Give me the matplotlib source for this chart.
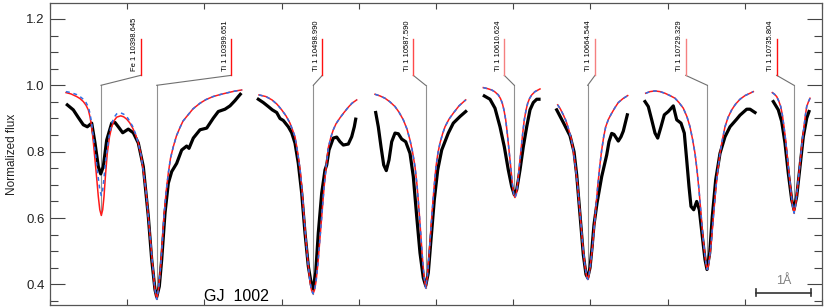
import numpy as np
import matplotlib.pyplot as plt
from matplotlib.ticker import MultipleLocator, FormatStrFormatter, NullFormatter

plt.rcParams['font.family'] = ['Liberation Sans', 'DejaVu Sans']

# x is in plot units (55 units = 1 A), spectral windows are placed side by side
# segment 1: Fe 1 10398.645 + Ti 1 10399.651
s1_obs_x = [17.3, 23.3, 28.3, 33.3, 37.3, 41.7, 45, 48.3, 50.7, 53.3, 56.7, 61.7, 65, 68.3, 72.7,
            78.3, 83.3, 88.3, 93.3, 98.3, 101.7, 105, 106.7, 109.3, 111.7, 115, 118.3, 121.7,
            126.7, 131.7, 136.7, 139, 143.3, 150, 156.7, 163.3, 168.3, 175, 180, 185, 188.3, 190.3]
s1_obs_y = [0.941, 0.926, 0.903, 0.881, 0.875, 0.886, 0.826, 0.755, 0.733, 0.755, 0.835, 0.886,
            0.888, 0.875, 0.857, 0.868, 0.857, 0.826, 0.755, 0.605, 0.475, 0.384, 0.362, 0.394,
            0.475, 0.615, 0.705, 0.740, 0.765, 0.805, 0.817, 0.810, 0.841, 0.866, 0.871, 0.901,
            0.921, 0.928, 0.938, 0.954, 0.966, 0.973]
s1_mod_x = [16, 21, 26.7, 30, 33.3, 36, 38.3, 40, 41.7, 43.3, 45, 46.7, 48.3, 49.8, 51.3, 52.7,
            54, 55.5, 57.3, 59.5, 61.7, 64, 66.7, 70.7, 73.7, 76.7, 79.7, 82.7, 85.5, 88.3, 91,
            93.3, 96, 98.3, 100.5, 102.7, 104.7, 106.7, 108.7, 110.7, 112.4, 114, 116, 118.3,
            120.5, 123.3, 126.5, 130, 133, 136.7, 143, 150, 156, 163, 170, 176.7, 184, 191.7]
s1_red_y = [0.978, 0.974, 0.966, 0.960, 0.951, 0.940, 0.926, 0.905, 0.875, 0.830, 0.775, 0.720,
            0.665, 0.625, 0.608, 0.625, 0.665, 0.730, 0.795, 0.845, 0.875, 0.893, 0.904, 0.908,
            0.905, 0.898, 0.887, 0.871, 0.852, 0.826, 0.790, 0.745, 0.680, 0.605, 0.530, 0.455,
            0.390, 0.355, 0.390, 0.455, 0.530, 0.605, 0.675, 0.735, 0.780, 0.815, 0.848, 0.873,
            0.892, 0.906, 0.929, 0.946, 0.957, 0.966, 0.972, 0.977, 0.982, 0.986]
s1_blue_y = [0.981, 0.978, 0.972, 0.966, 0.958, 0.948, 0.935, 0.915, 0.885, 0.845, 0.805, 0.760,
             0.720, 0.685, 0.668, 0.685, 0.720, 0.770, 0.810, 0.855, 0.885, 0.903, 0.914, 0.917,
             0.913, 0.906, 0.892, 0.876, 0.854, 0.826, 0.790, 0.745, 0.680, 0.605, 0.530, 0.455,
             0.390, 0.355, 0.390, 0.455, 0.530, 0.605, 0.675, 0.735, 0.780, 0.815, 0.848, 0.873,
             0.892, 0.906, 0.929, 0.946, 0.957, 0.966, 0.972, 0.977, 0.982, 0.986]

# segment 2: Ti 1 10498.990
s2_obs_x = [208.3, 213.3, 218.3, 222.3, 226.7, 230, 233.3, 238.3, 241.7, 245, 248.3, 251.7, 255,
            258.3, 261.7, 263, 265.7, 268.3, 271.7, 275, 276.7, 279, 283.3, 286.7, 290, 293.3,
            298.3, 301.7, 304.3, 305.7]
s2_obs_y = [0.958, 0.948, 0.936, 0.926, 0.918, 0.900, 0.894, 0.875, 0.857, 0.826, 0.765, 0.675,
            0.555, 0.455, 0.394, 0.386, 0.435, 0.555, 0.675, 0.745, 0.760, 0.805, 0.841, 0.844,
            0.830, 0.820, 0.823, 0.845, 0.875, 0.898]
s2_mod_x = [209, 216, 222, 227, 231.7, 236, 240, 243, 245, 247, 249, 250.5, 252, 254, 256, 258,
            260, 261.5, 263, 264.5, 266, 268, 270, 272, 274, 276, 278.3, 281, 283.3, 286, 290,
            294, 298.3, 302, 306.7]
s2_mod_y = [0.971, 0.966, 0.956, 0.943, 0.926, 0.908, 0.886, 0.862, 0.845, 0.810, 0.770, 0.735,
            0.685, 0.605, 0.530, 0.465, 0.408, 0.383, 0.372, 0.383, 0.408, 0.465, 0.540, 0.615,
            0.690, 0.750, 0.812, 0.845, 0.866, 0.884, 0.902, 0.918, 0.934, 0.946, 0.956]

# segment 3: Ti 1 10587.590
s3_obs_x = [325.7, 328.3, 331, 333.7, 336.3, 339, 341.7, 345, 348.3, 351.7, 355.7, 360, 363.3,
            366.7, 370, 373.3, 375.7, 378.3, 381, 384.3, 387.7, 391.7, 398.3, 403.3, 410, 415.7]
s3_obs_y = [0.918, 0.875, 0.815, 0.760, 0.743, 0.775, 0.830, 0.856, 0.854, 0.838, 0.830, 0.795,
            0.725, 0.605, 0.495, 0.420, 0.396, 0.435, 0.535, 0.655, 0.745, 0.805, 0.856, 0.886,
            0.906, 0.921]
s3_mod_x = [325, 330, 335, 340, 345, 349, 353.3, 357, 360, 362.5, 365, 367, 369, 370.7, 372.3,
            374, 375.7, 377.4, 379, 380.6, 382.3, 384, 386, 388, 390, 392.5, 395, 399, 403.3,
            409, 415.7]
s3_mod_y = [0.973, 0.968, 0.961, 0.950, 0.936, 0.919, 0.896, 0.868, 0.835, 0.800, 0.755, 0.700,
            0.625, 0.555, 0.485, 0.425, 0.389, 0.425, 0.485, 0.555, 0.625, 0.690, 0.755, 0.797,
            0.826, 0.853, 0.875, 0.898, 0.916, 0.938, 0.956]

# segment 4: Ti 1 10610.624
s4_obs_x = [434.3, 440, 445, 450, 454.3, 458.3, 461.7, 464.3, 466.7, 470, 473.3, 476.7, 480,
            483.3, 486.7, 489]
s4_obs_y = [0.968, 0.958, 0.931, 0.875, 0.815, 0.745, 0.695, 0.670, 0.685, 0.745, 0.815, 0.875,
            0.926, 0.948, 0.958, 0.958]
s4_mod_x = [433.3, 437.5, 441.7, 445, 448.3, 450.5, 452.3, 454, 455.7, 457.3, 459, 460.7, 462.3,
            463.7, 465, 466.3, 467.7, 469.3, 471, 472.7, 474.3, 476, 477.7, 479.5, 481.7, 485, 490]
s4_mod_y = [0.993, 0.990, 0.986, 0.980, 0.971, 0.960, 0.946, 0.925, 0.896, 0.855, 0.805, 0.755,
            0.705, 0.672, 0.662, 0.672, 0.705, 0.755, 0.805, 0.855, 0.896, 0.925, 0.946, 0.960,
            0.971, 0.981, 0.989]

# segment 5: Ti 1 10664.544
s5_obs_x = [506.7, 513.3, 520, 524, 526.7, 530, 533.3, 536, 537.7, 540, 542, 544, 547, 551.7,
            556.7, 559, 561.7, 564, 568.3, 571, 573.3, 577.3]
s5_obs_y = [0.926, 0.888, 0.848, 0.800, 0.730, 0.610, 0.490, 0.430, 0.420, 0.450, 0.510, 0.580,
            0.645, 0.725, 0.790, 0.830, 0.855, 0.852, 0.832, 0.845, 0.862, 0.911]
s5_mod_x = [507.7, 510.5, 513.3, 516, 518.3, 521, 523.3, 525.5, 527.7, 529.7, 531.7, 533.3, 535,
            536.4, 537.7, 539, 540.3, 542, 543.7, 545.7, 547.7, 549.7, 551.7, 553.7, 555.7,
            558.5, 561.7, 565, 568.3, 573, 577.7]
s5_mod_y = [0.941, 0.928, 0.911, 0.893, 0.871, 0.842, 0.805, 0.755, 0.695, 0.625, 0.555, 0.500,
            0.455, 0.428, 0.415, 0.428, 0.455, 0.500, 0.555, 0.625, 0.695, 0.755, 0.805, 0.845,
            0.875, 0.898, 0.916, 0.933, 0.948, 0.960, 0.969]

# segment 6: Ti 1 10729.329
s6_obs_x = [595, 598.3, 601.7, 605, 607.7, 611, 614.3, 618.3, 623.3, 626.7, 631, 634.3, 636.7,
            639, 641, 643.7, 646.7, 649.3, 652.3, 655, 657, 659.7, 662.3, 665.7, 670, 675, 680,
            686.7, 690, 696.7, 700, 705]
s6_obs_y = [0.951, 0.936, 0.896, 0.856, 0.841, 0.875, 0.911, 0.921, 0.938, 0.896, 0.886, 0.856,
            0.775, 0.695, 0.635, 0.625, 0.650, 0.625, 0.545, 0.475, 0.445, 0.495, 0.605, 0.715,
            0.795, 0.845, 0.875, 0.898, 0.910, 0.928, 0.928, 0.918]
s6_mod_x = [595.7, 600, 605, 610, 615, 620, 625, 629, 633.3, 637, 640, 642.5, 645, 647, 649,
            650.7, 652.3, 653.7, 655, 656.2, 657.3, 658.5, 659.7, 661, 662.3, 664, 665.7, 667.8,
            670, 672.5, 675, 678, 681.7, 685.5, 690, 695, 700, 703.3]
s6_mod_y = [0.976, 0.981, 0.983, 0.981, 0.976, 0.969, 0.961, 0.948, 0.931, 0.905, 0.875, 0.838,
            0.795, 0.745, 0.685, 0.625, 0.565, 0.520, 0.485, 0.458, 0.445, 0.458, 0.485, 0.520,
            0.565, 0.625, 0.685, 0.745, 0.795, 0.838, 0.875, 0.903, 0.926, 0.943, 0.958, 0.969,
            0.976, 0.981]

# segment 7: Ti 1 10735.804
s7_obs_x = [723.3, 728.3, 731.7, 735, 738.3, 741.7, 744, 746.7, 750, 753.3, 756.7, 759]
s7_obs_y = [0.951, 0.926, 0.891, 0.826, 0.735, 0.655, 0.625, 0.665, 0.755, 0.845, 0.901, 0.921]
s7_mod_x = [722.3, 724.5, 726.7, 728.7, 730.7, 732.4, 734, 735.7, 737.3, 739, 740.7, 742.4, 744,
            745.6, 747.3, 749, 750.7, 752.3, 754, 755.4, 756.7, 758.4, 760]
s7_mod_y = [0.978, 0.973, 0.966, 0.953, 0.936, 0.910, 0.875, 0.833, 0.785, 0.735, 0.685, 0.640,
            0.615, 0.640, 0.685, 0.735, 0.785, 0.833, 0.875, 0.910, 0.936, 0.950, 0.961]

# line identifications
line_labels = ['Fe 1 10398.645', 'Ti 1 10399.651', 'Ti 1 10498.990', 'Ti 1 10587.590',
               'Ti 1 10610.624', 'Ti 1 10664.544', 'Ti 1 10729.329', 'Ti 1 10735.804']
line_pos = [51, 106.7, 263.3, 375.7, 464.3, 537.7, 657.3, 744]
line_depth = [0.608, 0.355, 0.372, 0.389, 0.662, 0.415, 0.445, 0.615]
label_pos = [90.7, 181.3, 272.3, 363.3, 454.3, 545, 635.7, 726.7]
label_col = ['#ff1010', '#ff1010', '#ff1010', '#ff4a4a', '#f58080', '#f58080', '#f58080', '#ff1010']

obs = [(s1_obs_x, s1_obs_y), (s2_obs_x, s2_obs_y), (s3_obs_x, s3_obs_y), (s4_obs_x, s4_obs_y),
       (s5_obs_x, s5_obs_y), (s6_obs_x, s6_obs_y), (s7_obs_x, s7_obs_y)]
red = [(s1_mod_x, s1_red_y), (s2_mod_x, s2_mod_y), (s3_mod_x, s3_mod_y), (s4_mod_x, s4_mod_y),
       (s5_mod_x, s5_mod_y), (s6_mod_x, s6_mod_y), (s7_mod_x, s7_mod_y)]
blue = [(s1_mod_x, s1_blue_y)] + red[1:]

fig = plt.figure(figsize=(8.3, 3.08), dpi=100)
ax = fig.add_axes([50 / 830, 3 / 308, 772 / 830, 302 / 308])

# gray markers of line centres
for xc, d, xl in zip(line_pos, line_depth, label_pos):
    ax.plot([xc, xc], [d, 1.0], color='#909090', lw=0.8, zorder=1)
    ax.plot([xc, xl], [1.0, 1.03], color='#707070', lw=0.8, zorder=1)

for x, y in obs:
    ax.plot(x, y, color='black', lw=2.3, solid_joinstyle='round', zorder=2)
for x, y in red:
    ax.plot(x, y, color='#ff1a1a', lw=1.1, zorder=3)
for x, y in blue:
    ax.plot(x, y, color='#2f6fe8', lw=1.1, dashes=(2.5, 2.5), zorder=4)

for xl, lab, c in zip(label_pos, line_labels, label_col):
    ax.plot([xl, xl], [1.03, 1.139], color=c, lw=1.0)
    ax.text(xl - 6, 1.042, lab, rotation=90, ha='center', va='bottom', fontsize=5.5)

ax.text(154, 0.349, 'GJ  1002', fontsize=11.5, ha='left', va='baseline')

# scale bar of 1 A
bar_x0, bar_len = 706, 55
ax.plot([bar_x0, bar_x0 + bar_len], [0.3745, 0.3745], color='#333333', lw=1.2)
for xe in (bar_x0, bar_x0 + bar_len):
    ax.plot([xe, xe], [0.364, 0.385], color='#333333', lw=1.2)
ax.text(bar_x0 + bar_len / 2, 0.393, '1Å', color='#808080', fontsize=9, ha='center', va='bottom')

ax.set_xlim(0, 772)
ax.set_ylim(0.338, 1.248)
ax.set_xticks(np.arange(0, 772.1, 77.2))
ax.xaxis.set_major_formatter(NullFormatter())
ax.yaxis.set_major_locator(MultipleLocator(0.2))
ax.yaxis.set_minor_locator(MultipleLocator(0.05))
ax.yaxis.set_major_formatter(FormatStrFormatter('%.1f'))
ax.tick_params(axis='y', which='major', direction='in', length=11, width=0.8, right=True,
               labelsize=9.5, pad=4, colors='#444444', labelcolor='#222222')
ax.tick_params(axis='y', which='minor', direction='in', length=6, width=0.8, right=True,
               colors='#444444')
ax.tick_params(axis='x', which='major', direction='in', length=4.5, width=0.8, top=True,
               colors='#444444')
for sp in ax.spines.values():
    sp.set_color('#555555')
    sp.set_linewidth(0.9)
ax.set_ylabel('Normalized flux', fontsize=8.5, labelpad=6, color='#222222')

fig.savefig('out.png', dpi=100)
